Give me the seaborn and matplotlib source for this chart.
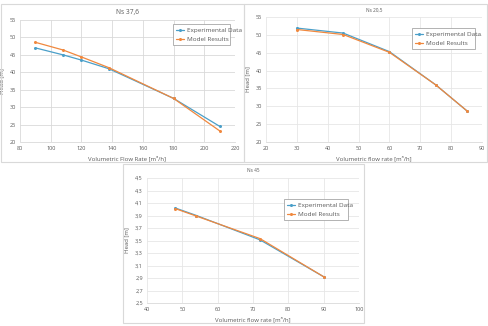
import numpy as np
import pandas as pd
import seaborn as sns
import matplotlib.pyplot as plt
from matplotlib.patches import Rectangle

# Ns 37,6
q1 = [90, 108, 120, 138, 180, 210]
h1_exp = [47.0, 45.0, 43.5, 41.0, 32.5, 24.5]
h1_mod = [48.6, 46.4, 44.4, 41.3, 32.5, 23.2]

# Ns 20,5
q2 = [30, 45, 60, 75, 85]
h2_exp = [51.9, 50.5, 45.3, 36.0, 28.8]
h2_mod = [51.5, 50.1, 45.1, 36.0, 28.8]

# Ns 45
q3 = [48, 54, 72, 90]
h3_exp = [4.02, 3.90, 3.51, 2.92]
h3_mod = [4.01, 3.89, 3.53, 2.92]

titles = ['Ns 37,6', 'Ns 20,5', 'Ns 45']
xlabels = ['Volumetric Flow Rate [m³/h]', 'Volumetric flow rate [m³/h]', 'Volumetric flow rate [m³/h]']
series_names = ['Experimental Data', 'Model Results']

sns.set_style('white')
plt.rcParams['font.family'] = ['Open Sans', 'DejaVu Sans']

blue = '#4a9fc9'
orange = '#f0883e'
txt = '#595959'
W, H = 488, 326

fig = plt.figure(figsize=(4.88, 3.26), dpi=100)

def px_axes(l, t, r, b):
    return fig.add_axes([l / W, 1 - b / H, (r - l) / W, (b - t) / H])

def px_box(l, t, r, b):
    fig.patches.append(Rectangle((l / W, 1 - b / H), (r - l) / W, (b - t) / H,
                                 transform=fig.transFigure, fill=False,
                                 edgecolor='#d9d9d9', linewidth=0.8))

px_box(1, 4, 244, 162)
px_box(244, 4, 487, 162)
px_box(123, 164, 364, 323)

ax1 = px_axes(20, 20, 235, 142)
ax2 = px_axes(266, 17, 482, 142)
ax3 = px_axes(147, 178, 359, 303)

panels = [
    (ax1, q1, h1_exp, h1_mod, (80, 220, 20), (20, 55, 5), 4.8, (170, 21, 233, 42)),
    (ax2, q2, h2_exp, h2_mod, (20, 90, 10), (20, 55, 5), 3.4, (409, 25, 478, 45)),
    (ax3, q3, h3_exp, h3_mod, (40, 100, 10), (2.5, 4.5, 0.2), 3.4, (281, 196, 351, 217)),
]

for i, (ax, q, he, hm, xr, yr, tsize, lg) in enumerate(panels):
    df = pd.DataFrame({'q': q + q, 'h': he + hm,
                       'serie': [series_names[0]] * len(q) + [series_names[1]] * len(q)})
    sns.lineplot(data=df, x='q', y='h', hue='serie', palette=[blue, orange],
                 marker='o', markersize=2.2, markeredgewidth=0, linewidth=0.9, ax=ax)
    ax.set_xlim(xr[0], xr[1])
    ax.set_ylim(yr[0], yr[1])
    ax.set_xticks(np.arange(xr[0], xr[1] + 0.001, xr[2]))
    yt = np.arange(yr[0], yr[1] + 0.001, yr[2])
    ax.set_yticks(yt)
    if i == 2:
        ax.set_yticklabels([f'{v:.1f}'.replace('.', ',') for v in yt])
    ax.grid(True, color='#e6e6e6', linewidth=0.6)
    if i == 0:
        ax.grid(True, color='#d9d9d9', linewidth=0.6)
    for s in ['top', 'right', 'left']:
        ax.spines[s].set_visible(False)
    ax.spines['bottom'].set_color('#d9d9d9')
    ax.spines['bottom'].set_linewidth(0.6)
    ax.tick_params(axis='both', labelsize=4, colors=txt, length=0, pad=3)
    ax.set_xlabel(xlabels[i], fontsize=4.3, color=txt, labelpad=3)
    ax.set_ylabel('Head [m]', fontsize=4.3, color=txt, labelpad=4)
    ax.set_title(titles[i], fontsize=tsize, color=txt, pad=4)
    l, t, r, b = lg
    ax.legend(loc='upper left', bbox_to_anchor=(l / W, 1 - b / H, (r - l) / W, (b - t) / H),
              bbox_transform=fig.transFigure, mode='expand', fontsize=4.6,
              frameon=True, fancybox=False, edgecolor='#a6a6a6', framealpha=1,
              handlelength=1.2, handletextpad=0.4, borderpad=0.5, labelspacing=0.6,
              labelcolor=txt).get_frame().set_linewidth(0.6)

fig.savefig('out.png', dpi=100, facecolor='white')
